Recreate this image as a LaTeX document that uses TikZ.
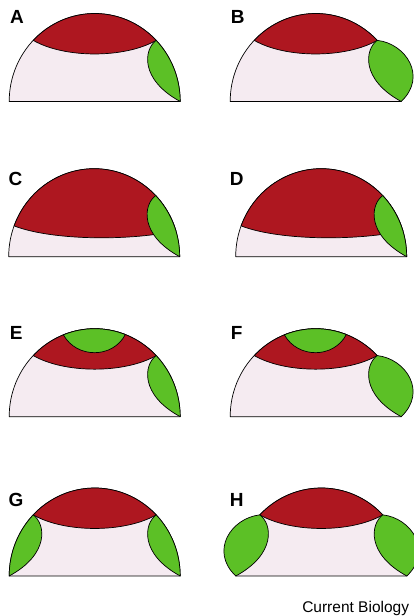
\documentclass[tikz,border=0pt]{standalone}
\usepackage{fontspec}
\setmainfont{Liberation Sans}

\definecolor{cellpink}{RGB}{245,235,241}
\definecolor{capred}{RGB}{174,23,32}
\definecolor{leafgreen}{RGB}{92,192,38}

\tikzset{
	outline/.style={draw=black, line width=0.7pt, line join=round},
	dome/.style={outline, fill=cellpink},
	redcap/.style={outline, fill=capred},
	greenpart/.style={outline, fill=leafgreen},
	panel label/.style={anchor=base west, inner sep=0pt, font=\fontsize{19}{19}\selectfont\bfseries},
}

% pieces of one embryo, base centre at the origin
\newcommand{\domeshape}{\filldraw[dome] (0:85.5 and 88) arc[start angle=0, end angle=180, x radius=85.5, y radius=88] -- cycle;}
\newcommand{\smallred}{\filldraw[redcap] (136:85.5 and 88) arc[start angle=136, end angle=44, x radius=85.5, y radius=88] .. controls (30,43) and (-30,43) .. cycle;}
\newcommand{\largered}{\filldraw[redcap] (159.5:85.5 and 88) arc[start angle=159.5, end angle=17, x radius=85.5, y radius=88] .. controls (30,15) and (-45,17) .. cycle;}
\newcommand{\greentop}{\filldraw[greenpart] (111.5:85.5 and 88) arc[start angle=111.5, end angle=69, x radius=85.5, y radius=88] .. controls (18,58) and (-18,58) .. cycle;}
\newcommand{\innerleaf}{\filldraw[greenpart] (44:85.5 and 88) arc[start angle=44, end angle=0, x radius=85.5, y radius=88] .. controls (45,22) and (49,52) .. cycle;}
\newcommand{\outerleaf}{\filldraw[greenpart] (44:85.5 and 88) .. controls (90,58) and (112,25) .. (85.5,0) .. controls (45,22) and (49,52) .. cycle;}

\begin{document}
\begin{tikzpicture}[x=1pt, y=1pt]
	\useasboundingbox (0,0) rectangle (414,616);

	% A
	\begin{scope}[shift={(94.7,514.5)}]
		\domeshape \smallred \innerleaf
	\end{scope}
	% B
	\begin{scope}[shift={(315.7,514.5)}]
		\domeshape \smallred \outerleaf
	\end{scope}

	% C
	\begin{scope}[shift={(94.2,359.3)}]
		\domeshape \largered \innerleaf
	\end{scope}
	% D
	\begin{scope}[shift={(321.2,359.3)}]
		\domeshape \largered \innerleaf
	\end{scope}

	% E
	\begin{scope}[shift={(94.7,199.3)}]
		\domeshape \smallred \greentop \innerleaf
	\end{scope}
	% F
	\begin{scope}[shift={(315.7,199.3)}]
		\domeshape \smallred \greentop \outerleaf
	\end{scope}

	% G
	\begin{scope}[shift={(94.7,40)}]
		\domeshape \smallred \innerleaf
		\begin{scope}[xscale=-1] \innerleaf \end{scope}
	\end{scope}
	% H
	\begin{scope}[shift={(321.3,40)}]
		\domeshape \smallred \outerleaf
		\begin{scope}[xscale=-1] \outerleaf \end{scope}
	\end{scope}

	\node[panel label] (labA) at (10,592) {A};
	\node[panel label] (labB) at (230.6,592) {B};
	\node[panel label] (labC) at (8.5,430.3) {C};
	\node[panel label] (labD) at (229.6,430.3) {D};
	\node[panel label] (labE) at (9.6,276.7) {E};
	\node[panel label] (labF) at (230.6,276.7) {F};
	\node[panel label] (labG) at (8.5,109.3) {G};
	\node[panel label] (labH) at (229.6,109.3) {H};

	\node[anchor=base east, inner sep=0pt, font=\fontsize{15.5}{15.5}\selectfont] (journal) at (409.3,3.5) {Current Biology};
\end{tikzpicture}
\end{document}
